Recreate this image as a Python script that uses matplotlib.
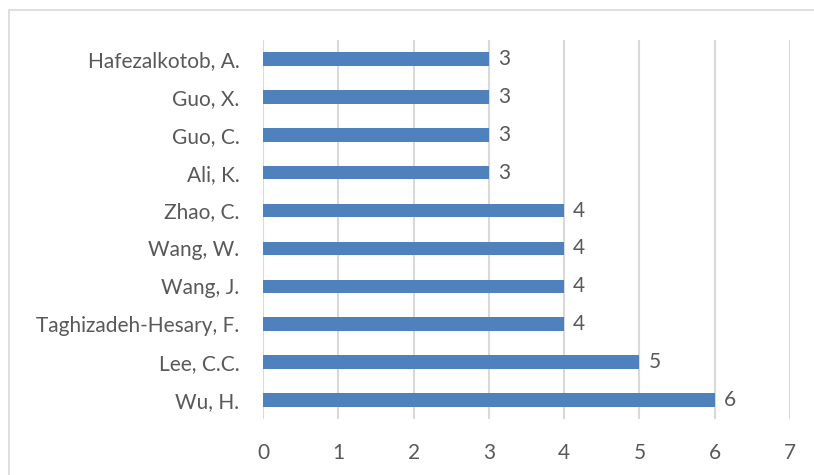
import matplotlib
matplotlib.use("Agg")
import matplotlib.pyplot as plt
from matplotlib.patches import Rectangle

authors = ["Wu, H.", "Lee, C.C.", "Taghizadeh-Hesary, F.", "Wang, J.", "Wang, W.",
           "Zhao, C.", "Ali, K.", "Guo, C.", "Guo, X.", "Hafezalkotob, A."]
counts = [6, 5, 4, 4, 4, 4, 3, 3, 3, 3]
x_ticks = [0, 1, 2, 3, 4, 5, 6, 7]

plt.rcParams["font.family"] = ["Lato", "DejaVu Sans"]
text_color = "#595959"
grid_color = "#d9d9d9"
bar_color = "#4f81bd"
fsize = 15

fig = plt.figure(figsize=(8.14, 4.75), dpi=100)
ax = fig.add_axes([263 / 814, 1 - 419 / 475, (790 - 263) / 814, (419 - 40) / 475])

ypos = list(range(len(authors)))
ax.barh(ypos, counts, height=0.36, color=bar_color, zorder=3)
for y, v in zip(ypos, counts):
    ax.text(v + 0.12, y, str(v), va="center", ha="left", fontsize=fsize, color=text_color)

ax.set_xlim(0, 7)
ax.set_ylim(-0.5, len(authors) - 0.5)
ax.set_xticks(x_ticks)
ax.set_yticks(ypos)
ax.set_yticklabels(authors)
ax.tick_params(axis="both", length=0, labelsize=fsize, labelcolor=text_color)
ax.tick_params(axis="y", pad=17)
ax.tick_params(axis="x", pad=17)
ax.grid(axis="x", color=grid_color, linewidth=1.5, zorder=0)
for s in ax.spines.values():
    s.set_visible(False)

# chart area frame
fig.patches.append(Rectangle((9 / 814, -0.1), 1.0, 1 - 10 / 475 + 0.1,
                             transform=fig.transFigure, fill=False,
                             edgecolor=grid_color, linewidth=1.2))

fig.savefig("out.png", dpi=100)
